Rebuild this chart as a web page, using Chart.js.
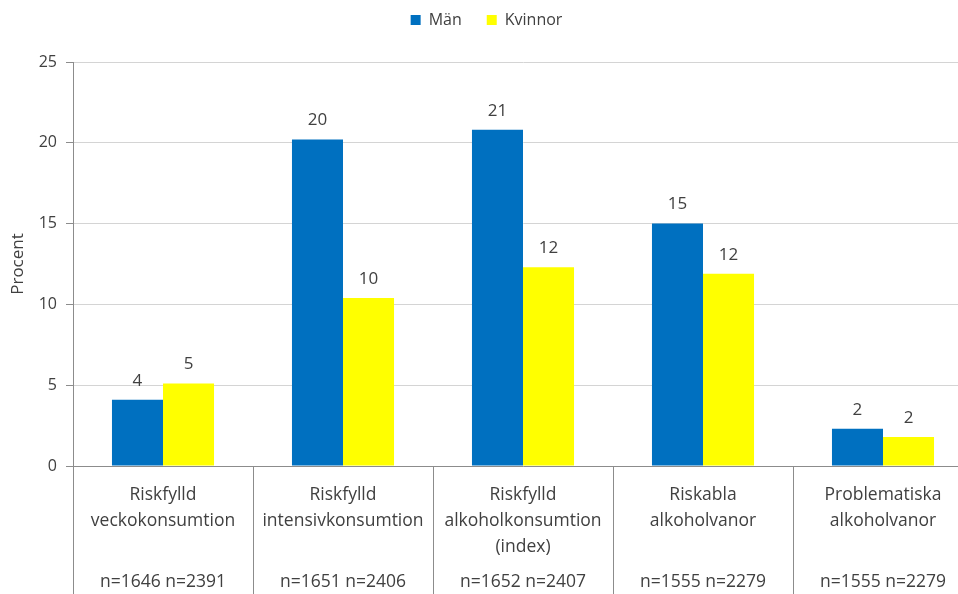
<!DOCTYPE html>
<html lang="sv">
<head>
<meta charset="utf-8">
<title>Alkoholvanor</title>
<script src="https://cdn.jsdelivr.net/npm/chart.js@4/dist/chart.umd.min.js"></script>
<style>
  html, body { margin: 0; padding: 0; background: #ffffff; overflow: hidden; }
  #wrap { width: 980px; height: 594px; }
</style>
</head>
<body>
<div id="wrap"><canvas id="chart" width="980" height="594"></canvas></div>
<script>
// Kategorier (flera rader per etikett) och antal svarande
const categories = [
  ['Riskfylld', 'veckokonsumtion'],
  ['Riskfylld', 'intensivkonsumtion'],
  ['Riskfylld', 'alkoholkonsumtion', '(index)'],
  ['Riskabla', 'alkoholvanor'],
  ['Problematiska', 'alkoholvanor']
];
const sampleSizes = [
  'n=1646 n=2391',
  'n=1651 n=2406',
  'n=1652 n=2407',
  'n=1555 n=2279',
  'n=1555 n=2279'
];
// Andel i procent
const man = [4.1, 20.2, 20.8, 15.0, 2.3];
const kvinnor = [5.1, 10.4, 12.3, 11.9, 1.8];
const yTicks = [0, 5, 10, 15, 20, 25];

const FONT = 'Open Sans';
const TEXT = '#404040';
const AXIS = '#8C8C8C';

// Värdeetiketter ovanför staplarna
const valueLabels = {
  id: 'valueLabels',
  afterDatasetsDraw(chart) {
    const ctx = chart.ctx;
    ctx.save();
    ctx.font = '17px "' + FONT + '"';
    ctx.fillStyle = TEXT;
    ctx.textAlign = 'center';
    ctx.textBaseline = 'middle';
    chart.data.datasets.forEach((ds, di) => {
      const meta = chart.getDatasetMeta(di);
      meta.data.forEach((bar, i) => {
        ctx.fillText(String(Math.round(ds.data[i])), bar.x, bar.y - 19);
      });
    });
    ctx.restore();
  }
};

// Fast höjd för förklaringen så att diagramytan börjar på rätt nivå
const legendHeight = {
  id: 'legendHeight',
  beforeInit(chart) {
    const fit = chart.legend.fit;
    chart.legend.fit = function () {
      fit.call(this);
      this.height = 75;
    };
  }
};

new Chart(document.getElementById('chart'), {
  type: 'bar',
  data: {
    labels: categories,
    datasets: [
      { label: 'Män', data: man, backgroundColor: '#0070C0' },
      { label: 'Kvinnor', data: kvinnor, backgroundColor: '#FFFF00' }
    ]
  },
  options: {
    responsive: false,
    animation: false,
    devicePixelRatio: 1,
    layout: { padding: { top: -13, right: 7, bottom: 0, left: 0 } },
    datasets: { bar: { categoryPercentage: 0.567, barPercentage: 1.0 } },
    plugins: {
      legend: {
        position: 'top',
        labels: {
          boxWidth: 10, boxHeight: 10, padding: 25,
          color: TEXT,
          font: { family: FONT, size: 16 }
        }
      },
      tooltip: { enabled: false }
    },
    scales: {
      x: {
        weight: 0,
        offset: true,
        grid: {
          offset: true,
          drawOnChartArea: false,
          drawTicks: true,
          tickLength: 140,
          color: AXIS,
          tickColor: AXIS
        },
        border: { color: AXIS },
        ticks: {
          color: TEXT,
          padding: -124,
          maxRotation: 0,
          autoSkip: false,
          font: { family: FONT, size: 17.5, lineHeight: '26px' }
        },
        afterFit(scale) { scale.height = 100; }
      },
      n: {
        type: 'category',
        position: 'bottom',
        weight: 1,
        labels: sampleSizes,
        offset: true,
        grid: { display: false },
        border: { display: false },
        ticks: {
          color: TEXT,
          padding: -5,
          maxRotation: 0,
          autoSkip: false,
          font: { family: FONT, size: 17.5, lineHeight: '26px' }
        },
        afterFit(scale) { scale.height = 28; }
      },
      y: {
        min: 0,
        max: 25,
        afterBuildTicks(scale) { scale.ticks = yTicks.map(v => ({ value: v })); },
        grid: {
          color: '#D4D4D4',
          tickColor: AXIS,
          tickLength: 7
        },
        border: { color: AXIS },
        ticks: {
          color: TEXT,
          padding: 9,
          font: { family: FONT, size: 16 }
        },
        title: {
          display: true,
          text: 'Procent',
          color: TEXT,
          padding: { top: 8, bottom: 0 },
          font: { family: FONT, size: 17 }
        },
        afterFit(scale) { scale.width = 73; }
      }
    }
  },
  plugins: [valueLabels, legendHeight]
});
</script>
</body>
</html>
